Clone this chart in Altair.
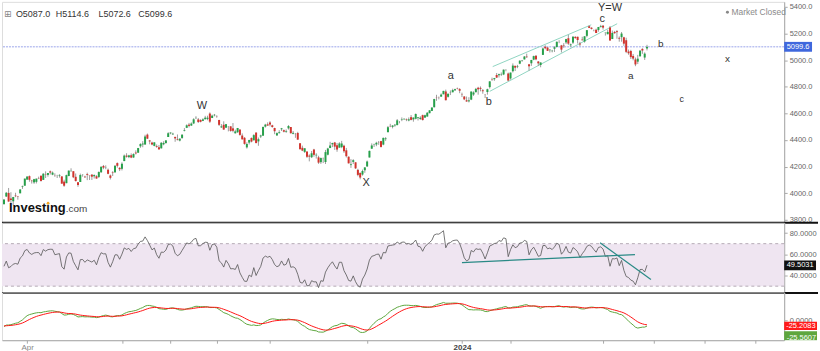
import altair as alt
import pandas as pd

# ---------------- data ----------------
warmup_closes = [3824.14, 3852.97, 3808.10, 3895.08, 3892.09, 3919.25, 3969.61, 3983.17, 3999.09, 3990.97,
                 3928.86, 3898.85, 3972.61, 4019.81, 4016.95, 4016.22, 4060.43, 4070.56, 4017.77, 4076.60,
                 4119.21, 4179.76, 4136.48, 4111.08, 4164.00, 4117.86, 4081.50, 4090.46, 4137.29, 4136.13,
                 4147.60, 4090.41, 4079.09, 3997.34, 3991.05, 4012.32, 3970.04, 3982.24, 3970.15,
                 3951.39, 3981.35, 4045.64, 4048.42, 3986.37, 3992.01, 3918.32, 3861.59, 3855.76, 3919.29,
                 3891.93, 3960.28, 3916.64]

closes = [
    3951.57, 4002.87, 3936.97, 3948.72, 3970.99, 3977.53, 3971.27, 4027.81, 4050.83, 4109.31,
    4124.51, 4100.60, 4090.38, 4105.02, 4109.11, 4108.94, 4091.95, 4146.22, 4137.64, 4151.32, 4154.87, 4154.52, 4129.79, 4133.52, 4137.04, 4071.63, 4055.99, 4135.35, 4169.48,
    4167.87, 4119.58, 4090.75, 4061.22, 4136.25, 4138.12, 4119.17, 4137.64, 4130.62, 4124.08, 4136.28, 4109.90, 4158.77, 4198.05, 4191.98, 4192.63, 4145.58, 4115.24, 4151.28, 4205.45, 4205.52, 4179.83,
    4221.02, 4282.37, 4273.79, 4283.85, 4267.52, 4293.93, 4298.86, 4338.93, 4369.01, 4372.59, 4425.84, 4409.59, 4388.71, 4365.69, 4381.89, 4348.33, 4328.82, 4378.41, 4376.86, 4396.44, 4450.38,
    4455.59, 4446.82, 4411.59, 4398.95, 4409.53, 4439.26, 4472.16, 4510.04, 4505.42, 4522.79, 4554.98, 4565.72, 4534.87, 4536.34, 4554.64, 4567.46, 4566.75, 4537.41, 4582.23, 4588.96,
    4576.73, 4513.39, 4501.89, 4478.03, 4518.44, 4499.38, 4467.71, 4468.83, 4464.05, 4489.72, 4437.86, 4404.33, 4370.36, 4369.71, 4399.77, 4387.55, 4436.01, 4376.31, 4405.71, 4433.31, 4497.63, 4514.87, 4507.66,
    4515.77, 4496.83, 4465.48, 4451.14, 4457.49, 4487.46, 4461.90, 4467.44, 4505.10, 4450.32, 4453.53, 4443.95, 4402.20, 4330.00, 4320.06, 4337.44, 4273.53, 4274.51, 4299.70, 4288.05,
    4288.39, 4229.45, 4263.75, 4258.19, 4308.50, 4335.66, 4358.24, 4376.95, 4349.61, 4327.78, 4373.63, 4373.20, 4314.60, 4278.00, 4224.16, 4217.04, 4247.68, 4186.77, 4137.23, 4117.37, 4166.82, 4193.80,
    4237.86, 4317.78, 4358.34, 4365.98, 4378.38, 4382.78, 4347.35, 4415.24, 4411.55, 4495.70, 4502.88, 4508.24, 4514.02, 4547.38, 4538.19, 4556.62, 4559.34, 4550.43, 4554.89, 4550.58, 4567.80,
    4594.63, 4569.78, 4567.18, 4549.34, 4585.59, 4604.37, 4622.44, 4643.70, 4707.09, 4719.55, 4719.19, 4740.56, 4768.37, 4698.35, 4746.75, 4754.63, 4774.75, 4781.58, 4783.35, 4769.83,
    4742.83, 4704.81, 4688.68, 4697.24, 4763.54, 4756.50, 4783.45, 4780.24, 4783.83, 4765.98, 4739.21, 4780.94, 4839.81, 4850.43, 4864.60, 4868.55, 4894.16, 4890.97, 4927.93, 4924.97, 4845.65,
    4906.19, 4958.61, 4942.81, 4954.23, 4995.06, 4997.91, 5026.61, 5021.84, 4953.17, 5000.62, 5029.73, 5005.57, 4975.51, 4981.80, 5087.03, 5088.80, 5069.53, 5078.18, 5069.76, 5096.27,
    5137.08, 5130.95, 5078.65, 5104.76, 5157.36, 5123.69, 5117.94, 5175.27, 5165.31, 5150.48, 5117.09, 5149.42, 5178.51, 5224.62, 5241.53, 5234.18, 5218.19, 5203.58, 5248.49, 5254.35,
    5243.77, 5205.81, 5211.49, 5147.21, 5204.34, 5202.39, 5209.91, 5160.64, 5199.06, 5123.41, 5061.82, 5051.41, 5022.21, 5011.12, 4967.23, 5010.60, 5070.55, 5071.63, 5048.42, 5099.6,
]

opens = [
    3917, 3975, 4002, 3960, 3939, 3982, 3974, 3999, 4046, 4056,
    4102, 4128, 4094, 4081, 4085, 4111, 4131, 4100, 4140, 4137, 4164, 4139, 4131, 4133, 4132, 4126, 4087, 4075, 4129,
    4166, 4165, 4123, 4082, 4084, 4137, 4124, 4144, 4133, 4139, 4127, 4127, 4122, 4157, 4204, 4191, 4176, 4133, 4155, 4156, 4226, 4190,
    4183, 4241, 4282, 4271, 4285, 4268, 4305, 4304, 4352, 4366, 4366, 4440, 4396, 4380, 4355, 4354, 4345, 4337, 4367, 4377, 4422,
    4450, 4442, 4423, 4404, 4395, 4415, 4467, 4491, 4515, 4508, 4524, 4564, 4554, 4550, 4543, 4555, 4558, 4598, 4565, 4585,
    4578, 4550, 4494, 4514, 4492, 4498, 4502, 4487, 4450, 4458, 4478, 4433, 4416, 4344, 4380, 4415, 4397, 4455, 4389, 4426, 4432, 4500, 4517,
    4531, 4510, 4490, 4434, 4451, 4480, 4473, 4462, 4487, 4497, 4446, 4445, 4452, 4375, 4341, 4310, 4313, 4282, 4270, 4328,
    4284, 4269, 4233, 4259, 4234, 4289, 4339, 4367, 4381, 4360, 4342, 4346, 4357, 4322, 4274, 4211, 4235, 4232, 4175, 4152, 4140, 4172,
    4201, 4268, 4334, 4364, 4366, 4384, 4391, 4365, 4406, 4458, 4505, 4498, 4509, 4511, 4538, 4553, 4555, 4554, 4546, 4571, 4554,
    4559, 4564, 4557, 4586, 4568, 4576, 4601, 4618, 4646, 4721, 4720, 4725, 4743, 4764, 4724, 4753, 4758, 4773, 4786, 4782,
    4745, 4726, 4698, 4690, 4703, 4741, 4759, 4792, 4791, 4773, 4740, 4760, 4797, 4853, 4856, 4888, 4886, 4888, 4892, 4925, 4899,
    4862, 4916, 4957, 4950, 4973, 4995, 5005, 5026, 4968, 4976, 5003, 5032, 4989, 4963, 5039, 5100, 5094, 5074, 5067, 5085,
    5098, 5131, 5110, 5109, 5133, 5164, 5111, 5131, 5174, 5175, 5124, 5154, 5139, 5182, 5254, 5243, 5219, 5228, 5226, 5248,
    5258, 5204, 5194, 5244, 5158, 5211, 5217, 5167, 5172, 5171, 5149, 5064, 5068, 5031, 5005, 4988, 5028, 5084, 5019, 5087.0,
]

highs = [
    3956, 4009, 4039, 4007, 3972, 4003, 3979, 4030, 4057, 4110,
    4128, 4133, 4100, 4108, 4110, 4124, 4132, 4150, 4164, 4152, 4170, 4163, 4149, 4138, 4142, 4127, 4101, 4139, 4170,
    4187, 4165, 4148, 4083, 4147, 4142, 4131, 4154, 4133, 4143, 4141, 4135, 4164, 4202, 4212, 4209, 4185, 4140, 4165, 4212, 4231, 4195,
    4232, 4290, 4300, 4288, 4299, 4299, 4322, 4340, 4375, 4391, 4439, 4448, 4400, 4387, 4382, 4366, 4362, 4384, 4390, 4398, 4458,
    4456, 4454, 4423, 4441, 4412, 4443, 4489, 4517, 4528, 4532, 4563, 4578, 4565, 4555, 4563, 4581, 4582, 4607, 4590, 4595,
    4585, 4551, 4519, 4540, 4520, 4503, 4503, 4527, 4477, 4490, 4479, 4449, 4421, 4382, 4401, 4418, 4443, 4458, 4418, 4439, 4500, 4521, 4532,
    4541, 4514, 4491, 4457, 4473, 4490, 4478, 4479, 4511, 4497, 4467, 4452, 4461, 4376, 4357, 4338, 4313, 4292, 4317, 4333,
    4300, 4281, 4268, 4268, 4325, 4341, 4386, 4379, 4385, 4377, 4383, 4393, 4364, 4340, 4276, 4256, 4255, 4232, 4183, 4156, 4177, 4194,
    4245, 4320, 4374, 4372, 4386, 4392, 4393, 4418, 4421, 4505, 4521, 4511, 4520, 4557, 4542, 4569, 4560, 4561, 4569, 4587, 4569,
    4599, 4572, 4578, 4590, 4590, 4609, 4623, 4644, 4709, 4739, 4726, 4749, 4769, 4778, 4749, 4772, 4785, 4785, 4793, 4789,
    4755, 4730, 4726, 4721, 4764, 4765, 4791, 4799, 4802, 4782, 4745, 4785, 4842, 4868, 4866, 4903, 4898, 4907, 4929, 4932, 4906,
    4906, 4975, 4957, 4964, 4999, 5001, 5030, 5048, 4971, 5002, 5033, 5038, 4993, 4983, 5094, 5111, 5097, 5081, 5077, 5104,
    5140, 5149, 5114, 5127, 5160, 5190, 5124, 5180, 5180, 5176, 5137, 5175, 5180, 5226, 5261, 5246, 5229, 5236, 5249, 5265,
    5264, 5208, 5228, 5256, 5222, 5219, 5225, 5178, 5211, 5175, 5168, 5079, 5077, 5046, 5019, 5039, 5076, 5089, 5058, 5114.6,
]

lows = [
    3916, 3971, 3936, 3919, 3909, 3970, 3951, 3999, 4032, 4056,
    4099, 4086, 4072, 4070, 4073, 4106, 4087, 4099, 4114, 4124, 4140, 4135, 4123, 4114, 4117, 4071, 4048, 4075, 4127,
    4160, 4113, 4088, 4048, 4084, 4124, 4116, 4098, 4099, 4099, 4110, 4109, 4114, 4153, 4180, 4180, 4142, 4103, 4129, 4156, 4192, 4166,
    4171, 4241, 4267, 4263, 4263, 4266, 4291, 4304, 4341, 4345, 4362, 4407, 4367, 4360, 4352, 4341, 4328, 4335, 4360, 4371, 4422,
    4443, 4437, 4386, 4397, 4389, 4408, 4464, 4489, 4494, 4505, 4519, 4557, 4527, 4532, 4541, 4555, 4548, 4528, 4564, 4577,
    4567, 4505, 4490, 4475, 4491, 4464, 4462, 4457, 4448, 4453, 4432, 4403, 4364, 4335, 4366, 4382, 4397, 4375, 4356, 4414, 4431, 4493, 4507,
    4502, 4492, 4443, 4430, 4448, 4467, 4457, 4453, 4478, 4448, 4442, 4416, 4402, 4329, 4316, 4302, 4265, 4239, 4264, 4274,
    4260, 4220, 4220, 4226, 4219, 4284, 4339, 4346, 4325, 4311, 4342, 4338, 4303, 4268, 4223, 4190, 4219, 4182, 4127, 4104, 4132, 4153,
    4197, 4268, 4334, 4347, 4353, 4363, 4343, 4360, 4393, 4458, 4496, 4487, 4499, 4511, 4525, 4541, 4552, 4541, 4540, 4547, 4537,
    4554, 4546, 4551, 4546, 4565, 4574, 4600, 4617, 4643, 4694, 4705, 4725, 4743, 4697, 4718, 4737, 4758, 4768, 4780, 4751,
    4722, 4699, 4687, 4682, 4699, 4731, 4756, 4740, 4765, 4747, 4715, 4740, 4786, 4844, 4844, 4865, 4869, 4881, 4887, 4916, 4845,
    4853, 4907, 4918, 4939, 4969, 4987, 5004, 5016, 4920, 4956, 4999, 4999, 4955, 4946, 5038, 5081, 5068, 5057, 5058, 5061,
    5095, 5127, 5057, 5092, 5121, 5114, 5097, 5121, 5160, 5124, 5104, 5146, 5131, 5171, 5240, 5230, 5216, 5203, 5213, 5245,
    5229, 5184, 5194, 5146, 5158, 5197, 5160, 5138, 5138, 5107, 5052, 5040, 5008, 4998, 4954, 4970, 5028, 5047, 5001, 5072.6,
]

# month tick positions (trading-day index) and labels
month_ticks = [10, 51, 72, 92, 115, 157, 198, 219, 259, 281, 303, 325]
last_price = 5099.6
rsi_last_label = "49.5031"
macd_signal_label = "-25.2083"
macd_line_label = "-25.5607"

# wave annotations (trading-day index, price)
ann_text = ["W", "X", "a", "b", "c", "Y=W", "b", "a", "x", "c"]
ann_x = [85.6, 156.6, 193.2, 209.6, 258.6, 262.0, 284.0, 271.0, 312.8, 293.0]
ann_y = [4652, 4077, 4877, 4682, 5312, 5393, 5123, 4877, 5011, 4705]
ann_size = [11, 11, 11, 11, 11, 11, 10, 10, 10, 9]

# channel lines on price (index, price)
chan_x1 = [211.3, 210.0]
chan_y1 = [4951, 4765]
chan_x2 = [253.9, 265.1]
chan_y2 = [5265, 5273]

# RSI trend lines (index, rsi)
rtl_x1 = [198.0, 257.7]
rtl_y1 = [52.2, 70.9]
rtl_x2 = [272.8, 279.7]
rtl_y2 = [59.7, 36.2]

# ---------------- derived indicators ----------------
n = len(closes)
df = pd.DataFrame({"i": list(range(n)), "o": opens, "h": highs, "l": lows, "c": closes})
df["dir"] = ["up" if c >= o else "down" for o, c in zip(df.o, df.c)]

allc = pd.Series(warmup_closes + closes, dtype=float)
delta = allc.diff()
gain = delta.clip(lower=0).ewm(alpha=1 / 14, adjust=False).mean()
loss = (-delta.clip(upper=0)).ewm(alpha=1 / 14, adjust=False).mean()
rsi = 100 - 100 / (1 + gain / loss)
ema12 = allc.ewm(span=12, adjust=False).mean()
ema26 = allc.ewm(span=26, adjust=False).mean()
macd = ema12 - ema26
sig = macd.ewm(span=9, adjust=False).mean()
k = len(warmup_closes)
df["rsi"] = rsi.values[k:]
df["macd"] = macd.values[k:]
df["sig"] = sig.values[k:]

# ---------------- styling ----------------
W = 786
FONT = "Liberation Sans"
LS = 7.5  # right-side label size
GREEN = "#26a04a"
RED = "#d2332c"
AX = "#a8a8a8"
LAB = "#666666"

xs = alt.Scale(domain=[-0.86, 337.3], nice=False, zero=False)
X = alt.X("i:Q", scale=xs, axis=None)

# ---------------- main price panel ----------------
ys = alt.Scale(domain=[3777.6, 5437.4], nice=False, zero=False)
yax = alt.Axis(orient="right", values=[3800, 4000, 4200, 4400, 4600, 4800, 5000, 5200, 5400],
               format=".1f", grid=False, title=None, labelFontSize=LS, labelColor=LAB,
               tickColor=AX, tickSize=3, domainColor=AX, labelPadding=2, labelFont=FONT)

base = alt.Chart(df)
wicks = base.mark_rule(color="#9c9c9c", strokeWidth=1).encode(
    x=X, y=alt.Y("l:Q", scale=ys, axis=yax), y2="h:Q")
bodies = base.mark_rule(strokeWidth=2).encode(
    x=X, y=alt.Y("o:Q", scale=ys, axis=yax), y2="c:Q",
    color=alt.Color("dir:N", scale=alt.Scale(domain=["up", "down"], range=[GREEN, RED]), legend=None))

price_line = alt.Chart(pd.DataFrame({"v": [last_price]})).mark_rule(
    color="#9aa4ea", strokeWidth=1, strokeDash=[2, 1]).encode(y=alt.Y("v:Q", scale=ys, axis=yax))

chan = alt.Chart(pd.DataFrame({"x1": chan_x1, "x2": chan_x2, "y1": chan_y1, "y2": chan_y2})).mark_rule(
    color="#8fd5c2", strokeWidth=1).encode(
    x=alt.X("x1:Q", scale=xs, axis=None), x2="x2:Q",
    y=alt.Y("y1:Q", scale=ys, axis=yax), y2="y2:Q")

ann_df = pd.DataFrame({"t": ann_text, "x": ann_x, "y": ann_y, "s": ann_size})
ann = alt.Chart(ann_df).mark_text(font=FONT, color="#333333").encode(
    x=alt.X("x:Q", scale=xs, axis=None), y=alt.Y("y:Q", scale=ys, axis=yax), text="t:N",
    size=alt.Size("s:Q", scale=None, legend=None))

price_box = alt.Chart(pd.DataFrame({"a": [last_price + 37], "b": [last_price - 37]})).mark_rect(
    color="#3f67dd").encode(x=alt.value(786), x2=alt.value(814),
                             y=alt.Y("a:Q", scale=ys, axis=yax), y2="b:Q")
price_txt = alt.Chart(pd.DataFrame({"v": [last_price], "t": [f"{last_price:.1f}"]})).mark_text(
    font=FONT, fontSize=LS, color="white", align="left").encode(
    x=alt.value(788.5), y=alt.Y("v:Q", scale=ys, axis=yax), text="t:N")

hdr_df = pd.DataFrame({"t": ["O5087.0", "H5114.6", "L5072.6", "C5099.6"], "px": [14, 54, 97, 137]})
hdr = alt.Chart(hdr_df).mark_text(font=FONT, fontSize=9, color="#333333", align="left").encode(
    x=alt.X("px:Q", scale=None), y=alt.value(12), text="t:N")
hdr_icon = alt.Chart(pd.DataFrame({"t": ["⊞"]})).mark_text(
    font="DejaVu Sans", fontSize=9, color="#888888", align="left").encode(
    x=alt.value(2), y=alt.value(12), text="t:N")

mk_dot = alt.Chart(pd.DataFrame({"t": [0]})).mark_circle(color="#888888", opacity=1, size=9).encode(
    x=alt.value(729), y=alt.value(10.5))
mk_txt = alt.Chart(pd.DataFrame({"t": ["Market Closed"]})).mark_text(
    font=FONT, fontSize=8.5, color="#8a8a8a", align="left").encode(x=alt.value(733), y=alt.value(10.5), text="t:N")

logo1 = alt.Chart(pd.DataFrame({"t": ["Investing"]})).mark_text(
    font=FONT, fontSize=13, fontWeight="bold", color="#111111", align="left", baseline="alphabetic").encode(
    x=alt.value(7), y=alt.value(211.5), text="t:N")
logo2 = alt.Chart(pd.DataFrame({"t": [".com"]})).mark_text(
    font=FONT, fontSize=10, color="#444444", align="left", baseline="alphabetic").encode(
    x=alt.value(64), y=alt.value(211.5), text="t:N")
logo_dot = alt.Chart(pd.DataFrame({"t": [0]})).mark_circle(color="#f5a623", opacity=1, size=7).encode(
    x=alt.value(46.3), y=alt.value(202.3))

sep1 = alt.Chart(pd.DataFrame({"t": [0]})).mark_rule(color="#111111", strokeWidth=2).encode(
    x=alt.value(0), x2=alt.value(820), y=alt.value(222))

main = alt.layer(price_line, chan, wicks, bodies, ann, price_box, price_txt, hdr_icon, hdr,
                 mk_dot, mk_txt, logo1, logo2, logo_dot, sep1).properties(width=W, height=222)

# ---------------- RSI panel ----------------
rs = alt.Scale(domain=[24.1, 89.65], nice=False, zero=False)
rax = alt.Axis(orient="right", values=[40, 60, 80], format=".4f", grid=False, title=None,
               labelFontSize=LS, labelColor=LAB, tickColor=AX, tickSize=3, domainColor=AX,
               labelPadding=2, labelFont=FONT)
band = alt.Chart(pd.DataFrame({"a": [70], "b": [30]})).mark_rect(color="#efe5f1").encode(
    x=alt.value(0), x2=alt.value(W), y=alt.Y("a:Q", scale=rs, axis=rax), y2="b:Q")
blines = alt.Chart(pd.DataFrame({"v": [70, 30]})).mark_rule(
    color="#b5aab5", strokeDash=[3, 3], strokeWidth=1).encode(y=alt.Y("v:Q", scale=rs, axis=rax))
rsi_line = base.mark_line(color="#555555", strokeWidth=0.8).encode(
    x=X, y=alt.Y("rsi:Q", scale=rs, axis=rax))
rtl = alt.Chart(pd.DataFrame({"x1": rtl_x1, "x2": rtl_x2, "y1": rtl_y1, "y2": rtl_y2})).mark_rule(
    color="#2a8a86", strokeWidth=1.2).encode(
    x=alt.X("x1:Q", scale=xs, axis=None), x2="x2:Q",
    y=alt.Y("y1:Q", scale=rs, axis=rax), y2="y2:Q")
rv = float(rsi_last_label)
rsi_box = alt.Chart(pd.DataFrame({"a": [rv + 4.6], "b": [rv - 4.6]})).mark_rect(color="#111111").encode(
    x=alt.value(786), x2=alt.value(818), y=alt.Y("a:Q", scale=rs, axis=rax), y2="b:Q")
rsi_txt = alt.Chart(pd.DataFrame({"v": [rv], "t": [rsi_last_label]})).mark_text(
    font=FONT, fontSize=LS, color="white", align="left").encode(
    x=alt.value(788.5), y=alt.Y("v:Q", scale=rs, axis=rax), text="t:N")
sep2 = alt.Chart(pd.DataFrame({"t": [0]})).mark_rule(color="#111111", strokeWidth=2).encode(
    x=alt.value(0), x2=alt.value(820), y=alt.value(70.5))

rsi_panel = alt.layer(band, blines, rsi_line, rtl, rsi_box, rsi_txt, sep2).properties(width=W, height=70)

# ---------------- MACD panel ----------------
ms = alt.Scale(domain=[-90, 126], nice=False, zero=False)
max_ = alt.Axis(orient="right", values=[0], format=".4f", grid=False, title=None,
                labelFontSize=LS, labelColor=LAB, tickColor=AX, tickSize=3, domainColor=AX,
                labelPadding=2, labelFont=FONT)
xax = alt.Axis(values=month_ticks, grid=False, title=None, domainColor=AX, tickColor=AX, tickSize=3,
               labelPadding=0, labelFontSize=8, labelFont=FONT,
               labelExpr="datum.value == 10 ? 'Apr' : (datum.value == 198 ? '2024' : '')",
               labelColor={"condition": {"test": "datum.value == 198", "value": "#444444"}, "value": "#888888"},
               labelFontWeight={"condition": {"test": "datum.value == 198", "value": "bold"}, "value": "normal"},
               labelOverlap=False, labelFlush=False)
XM = alt.X("i:Q", scale=xs, axis=xax)
macd_line = base.mark_line(color="#5ea63e", strokeWidth=1).encode(
    x=XM, y=alt.Y("macd:Q", scale=ms, axis=max_))
sig_line = base.mark_line(color="#ff1616", strokeWidth=1).encode(
    x=XM, y=alt.Y("sig:Q", scale=ms, axis=max_))
sv = float(macd_signal_label)
red_box = alt.Chart(pd.DataFrame({"a": [sv + 19], "b": [sv - 19]})).mark_rect(color="#ff1a1a").encode(
    x=alt.value(786), x2=alt.value(819), y=alt.Y("a:Q", scale=ms, axis=max_), y2="b:Q")
red_txt = alt.Chart(pd.DataFrame({"v": [sv], "t": [macd_signal_label]})).mark_text(
    font=FONT, fontSize=LS, color="white", align="left").encode(
    x=alt.value(788), y=alt.Y("v:Q", scale=ms, axis=max_), text="t:N")
green_box = alt.Chart(pd.DataFrame({"t": [0]})).mark_rect(color="#5ea63e").encode(
    x=alt.value(786), x2=alt.value(819), y=alt.value(39), y2=alt.value(48))
green_txt = alt.Chart(pd.DataFrame({"t": [macd_line_label]})).mark_text(
    font=FONT, fontSize=LS, color="white", align="left", baseline="top").encode(
    x=alt.value(788.5), y=alt.value(41.5), text="t:N")
cover = alt.Chart(pd.DataFrame({"t": [0]})).mark_rect(color="white").encode(
    x=alt.value(786.5), x2=alt.value(820), y=alt.value(48.5), y2=alt.value(59))

macd_panel = alt.layer(macd_line, sig_line, red_box, red_txt, green_box, green_txt, cover).properties(
    width=W, height=48)

chart = alt.vconcat(main, rsi_panel, macd_panel, spacing=0, bounds="flush", padding=0).configure_view(
    strokeWidth=0).configure(background="white", font=FONT)

chart.save("out.html", embed_options={"renderer": "svg", "actions": False})
